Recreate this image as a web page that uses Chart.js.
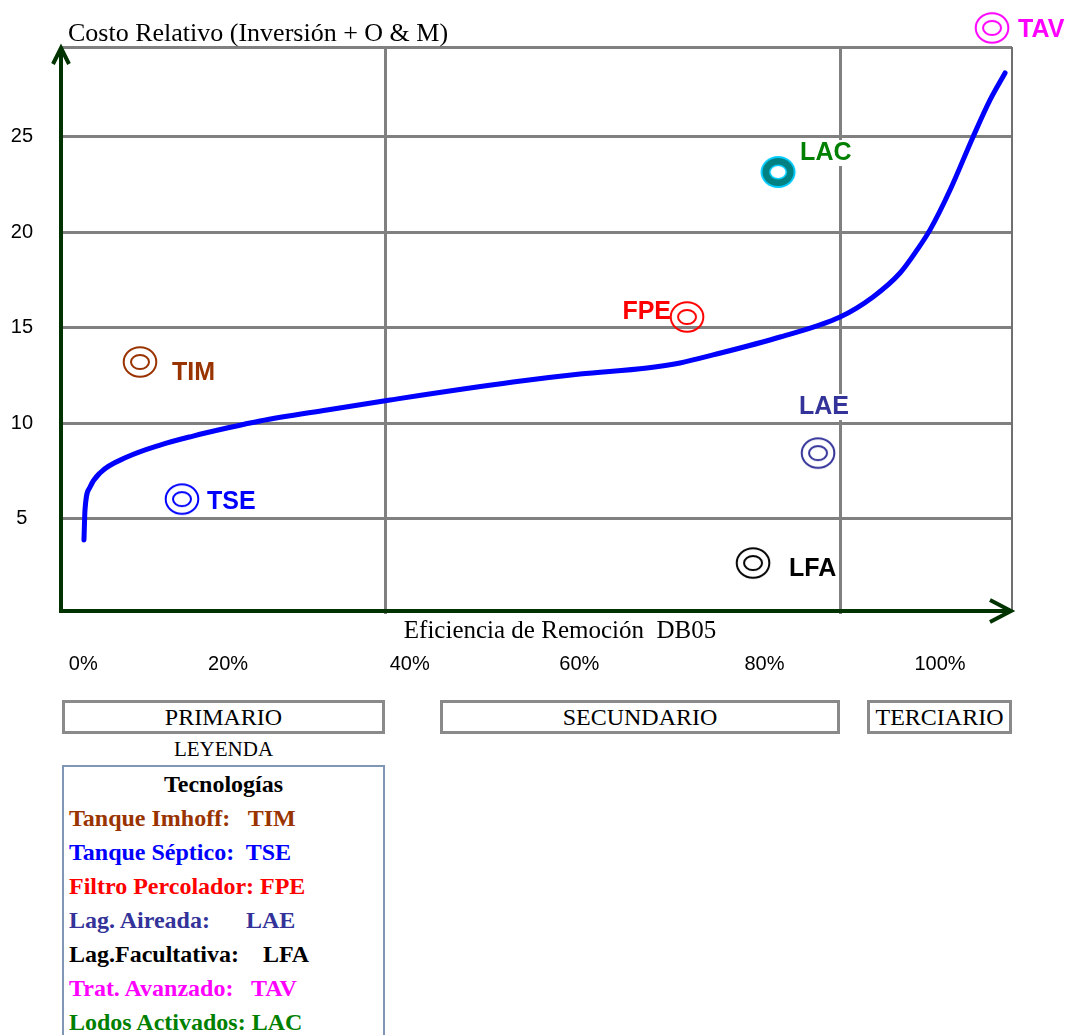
<!DOCTYPE html>
<html lang="es">
<head>
<meta charset="utf-8">
<title>Costo relativo vs eficiencia de remoción</title>
<script src="https://cdn.jsdelivr.net/npm/chart.js@4.4.1/dist/chart.umd.min.js"></script>
<style>
  html, body { margin: 0; padding: 0; background: #fff; }
  #wrap { position: relative; width: 1070px; height: 1035px; overflow: hidden; }
  #chart { position: absolute; left: 0; top: 0; }
  .serif { font-family: 'Liberation Serif', 'Times New Roman', serif; color: #000; }
  .stage { position: absolute; top: 700px; height: 34px; box-sizing: border-box; border: 3px solid #8a8a8a;
           font-size: 24px; line-height: 28px; text-align: center; white-space: nowrap; }
  #leyenda { position: absolute; left: 62px; top: 737px; width: 323px; text-align: center; font-size: 21px; line-height: 24px; }
  #legend { position: absolute; left: 62px; top: 765px; width: 323px; height: 300px; box-sizing: border-box;
            border: 2px solid #7f97b5; padding-left: 5px; font-weight: bold; font-size: 24px; line-height: 34px; }
  #legend div { white-space: pre; }
  #legend .head { text-align: center; padding-right: 5px; color: #000; }
</style>
</head>
<body>
<div id="wrap">
  <canvas id="chart" width="1070" height="690"></canvas>
  <div id="stages"></div>
  <div id="leyenda" class="serif">LEYENDA</div>
  <div id="legend" class="serif"><div class="head">Tecnologías</div></div>
</div>
<script>
// Axis ticks
const xTickAt   = [0, 16.9, 38.1, 57.9, 79.5, 100];
const xTickText = ['0%', '20%', '40%', '60%', '80%', '100%'];
const yTickAt   = [5, 10, 15, 20, 25];
const yTop      = 29.7;

// Treatment stage limits along the efficiency axis
const stageNames  = ['PRIMARIO', 'SECUNDARIO', 'TERCIARIO'];
const stageBounds = [35.2, 88.3];

// Cost curve: relative cost against BOD5 removal efficiency
const curveEff  = [0.08, 0.20, 0.79, 1.95, 5.10, 8.96, 12.81, 16.78, 20.63, 28.45, 35.80, 50.16, 57.98,
                   65.80, 69.65, 73.51, 81.33, 88.33, 92.18, 95.33, 97.32, 98.83, 101.17, 103.85, 105.84, 107.59];
const curveCost = [3.88, 5.45, 6.65, 7.39, 8.22, 8.85, 9.32, 9.74, 10.11, 10.69, 11.21, 12.15, 12.57,
                   12.89, 13.15, 13.57, 14.51, 15.56, 16.61, 17.86, 19.07, 20.12, 22.21, 24.99, 26.93, 28.34];

// Technologies
const techCodes   = ['TIM', 'TSE', 'FPE', 'LAE', 'LFA', 'TAV', 'LAC'];
const techNames   = ['Tanque Imhoff:   ', 'Tanque Séptico:  ', 'Filtro Percolador: ', 'Lag. Aireada:      ',
                     'Lag.Facultativa:    ', 'Trat. Avanzado:   ', 'Lodos Activados: '];
const techEff     = [6.62, 11.52, 70.47, 85.76, 78.17, 106.07, 81.10];
const techCost    = [13.2, 6.02, 15.56, 8.43, 2.67, 30.7, 23.15];
const techColor   = ['#993300', '#0000ff', '#ff0000', '#333399', '#000000', '#ff00ff', '#008000'];
const markerColor = ['#993300', '#0000ff', '#ff0000', '#333399', '#000000', '#ff00ff', '#008080'];

// Label placement around each marker: [dx, dy, align, white backing]
const labelPlace = {
  TIM: [32, 11, 'left', false],
  TSE: [25, 3, 'left', false],
  FPE: [-16, -5, 'right', false],
  LAE: [-19, -46, 'left', true],
  LFA: [36, 6, 'left', false],
  TAV: [26, 2, 'left', false],
  LAC: [22, -19, 'left', true]
};

const SANS = "'Liberation Sans', Arial, sans-serif";
const SERIF = "'Liberation Serif', 'Times New Roman', serif";
Chart.defaults.font.family = SANS;

function ring(color, solid) {
  const cv = document.createElement('canvas');
  cv.width = 40; cv.height = 36;
  const g = cv.getContext('2d');
  const ell = (rx, ry) => { g.beginPath(); g.ellipse(20, 18, rx, ry, 0, 0, Math.PI * 2); };
  if (solid) {
    g.fillStyle = '#00ccff'; ell(17.5, 16); g.fill();
    g.fillStyle = color;     ell(15.5, 14); g.fill();
    g.fillStyle = '#00ccff'; ell(9, 7.5);   g.fill();
    g.fillStyle = '#ffffff'; ell(7.5, 6);   g.fill();
  } else {
    g.strokeStyle = color; g.lineWidth = 2;
    ell(16.3, 14.8); g.stroke();
    ell(9, 7); g.stroke();
  }
  return cv;
}
const ringStyles = techCodes.map((c, i) => ring(markerColor[i], c === 'LAC'));

const decor = {
  id: 'decor',
  beforeDatasetsDraw(chart) {
    const { ctx, chartArea: a, scales: { x, y } } = chart;
    ctx.save();
    // stage dividers
    ctx.strokeStyle = '#808080';
    ctx.lineWidth = 3;
    stageBounds.forEach(v => {
      const px = Math.round(x.getPixelForValue(v)) + 0.5;
      ctx.beginPath(); ctx.moveTo(px, a.top); ctx.lineTo(px, a.bottom); ctx.stroke();
    });
    // right frame
    ctx.lineWidth = 2;
    ctx.strokeStyle = '#707070';
    ctx.beginPath(); ctx.moveTo(a.right, a.top); ctx.lineTo(a.right, a.bottom - 3); ctx.stroke();
    // white backing under boxed labels
    ctx.font = 'bold 25px ' + SANS;
    techCodes.forEach((c, i) => {
      const p = labelPlace[c];
      if (!p[3]) return;
      const w = ctx.measureText(c).width;
      const lx = x.getPixelForValue(techEff[i]) + p[0];
      const ly = y.getPixelForValue(techCost[i]) + p[1];
      const left = p[2] === 'right' ? lx - w : lx;
      ctx.fillStyle = '#ffffff';
      ctx.fillRect(left - 4, ly - 13, w + 8, 26);
    });
    // axes with arrowheads
    ctx.strokeStyle = '#003300';
    ctx.lineWidth = 4;
    ctx.lineJoin = 'miter';
    const ax = a.left, ay = a.bottom - 3;
    ctx.beginPath(); ctx.moveTo(ax, ay + 2); ctx.lineTo(ax, a.top + 2); ctx.stroke();
    ctx.beginPath(); ctx.moveTo(ax - 8, a.top + 17); ctx.lineTo(ax, a.top + 1); ctx.lineTo(ax + 8, a.top + 17); ctx.stroke();
    ctx.beginPath(); ctx.moveTo(ax - 2, ay); ctx.lineTo(a.right - 2, ay); ctx.stroke();
    ctx.beginPath(); ctx.moveTo(a.right - 22, ay - 11); ctx.lineTo(a.right - 1, ay); ctx.lineTo(a.right - 22, ay + 11); ctx.stroke();
    ctx.restore();
  },
  afterDatasetsDraw(chart) {
    const { ctx, scales: { x, y } } = chart;
    ctx.save();
    ctx.textBaseline = 'middle';
    ctx.font = 'bold 25px ' + SANS;
    techCodes.forEach((c, i) => {
      const p = labelPlace[c];
      ctx.fillStyle = techColor[i];
      ctx.textAlign = p[2];
      ctx.fillText(c, x.getPixelForValue(techEff[i]) + p[0], y.getPixelForValue(techCost[i]) + p[1]);
    });
    // axis titles
    ctx.fillStyle = '#000';
    ctx.textBaseline = 'alphabetic';
    ctx.textAlign = 'left';
    ctx.font = '26px ' + SERIF;
    ctx.fillText('Costo Relativo (Inversión + O & M)', 68, 41);
    ctx.textAlign = 'center';
    ctx.font = '25px ' + SERIF;
    ctx.fillText('Eficiencia de Remoción  DB05', 560, 638);
    ctx.restore();
  }
};

new Chart(document.getElementById('chart'), {
  type: 'scatter',
  data: {
    datasets: [
      {
        type: 'line',
        data: curveEff.map((v, i) => ({ x: v, y: curveCost[i] })),
        borderColor: '#0000ff',
        borderWidth: 5,
        borderCapStyle: 'round',
        pointRadius: 0,
        fill: false,
        cubicInterpolationMode: 'monotone',
        order: 2
      },
      {
        data: techEff.map((v, i) => ({ x: v, y: techCost[i] })),
        pointStyle: ringStyles,
        pointRadius: 26,
        borderWidth: 0,
        clip: false,
        order: 1
      }
    ]
  },
  options: {
    responsive: false,
    animation: false,
    events: [],
    layout: { padding: { top: 47, right: 58, left: 0, bottom: 0 } },
    plugins: { legend: { display: false }, tooltip: { enabled: false } },
    scales: {
      x: {
        type: 'linear', min: -2.6, max: 108.4,
        afterFit(s) { s.height = 76; },
        afterBuildTicks(s) { s.ticks = xTickAt.map(v => ({ value: v })); },
        grid: { display: false, drawTicks: false },
        border: { display: false },
        ticks: { padding: 38, color: '#000', font: { size: 20 }, maxRotation: 0, autoSkip: false,
                 callback: (v, i) => xTickText[i] }
      },
      y: {
        type: 'linear', min: 0, max: yTop,
        afterFit(s) { s.width = 61; },
        afterBuildTicks(s) { s.ticks = yTickAt.concat([yTop]).map(v => ({ value: v })); },
        grid: { color: '#808080', lineWidth: 3, drawTicks: false },
        border: { display: false },
        ticks: { padding: 28, crossAlign: 'center', color: '#000', font: { size: 20 },
                 callback: v => (yTickAt.includes(v) ? String(v) : '') }
      }
    }
  },
  plugins: [decor]
});

// Treatment stage boxes under the axis
const stageBoxes = [[62, 323], [440, 400], [867, 145]];
const stagesEl = document.getElementById('stages');
stageNames.forEach((n, i) => {
  const d = document.createElement('div');
  d.className = 'stage serif';
  d.style.left = stageBoxes[i][0] + 'px';
  d.style.width = stageBoxes[i][1] + 'px';
  d.textContent = n;
  stagesEl.appendChild(d);
});

// Legend of technologies
const legendEl = document.getElementById('legend');
techCodes.forEach((c, i) => {
  const d = document.createElement('div');
  d.style.color = techColor[i];
  d.textContent = techNames[i] + c;
  legendEl.appendChild(d);
});
</script>
</body>
</html>
